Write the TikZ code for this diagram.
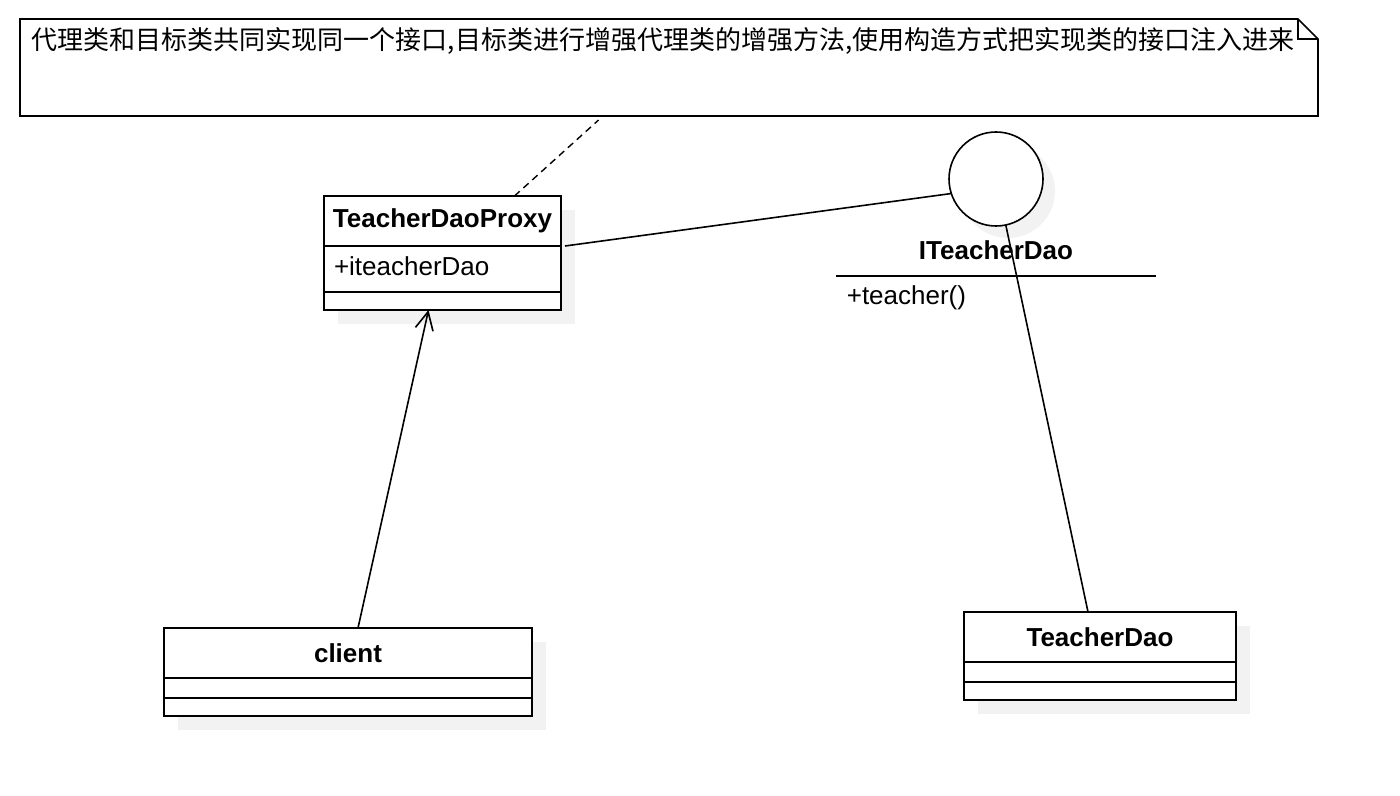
\documentclass[tikz,border=0pt]{standalone}
\usepackage{fontspec}
\setmainfont{Liberation Sans}
\newfontfamily\cjkfont{Noto Sans CJK SC}
\usepackage{tikz}
\usetikzlibrary{arrows.meta}
\usetikzlibrary{positioning}
\usetikzlibrary{backgrounds}

\begin{document}
\begin{tikzpicture}[x=0.5pt, y=-0.5pt, line width=0.8pt,
        font=\fontsize{13pt}{15pt}\selectfont,
        classhead/.style={draw, fill=white, inner sep=0pt, outer sep=0pt, minimum height=25pt, font=\fontsize{13pt}{15pt}\selectfont\bfseries},
        classpart/.style={draw, fill=white, inner xsep=5pt, inner ysep=0pt, outer sep=0pt, align=left},
        shade/.style={fill=black!5}]
        \useasboundingbox (0,0) rectangle (1400,796);

        % note
        \node[minimum width=649pt, minimum height=48.5pt, inner sep=0pt, outer sep=0pt] (note) at (669,67.5) {};
        \draw (note.north west) -- ([xshift=-10pt]note.north east) -- ([yshift=-10pt]note.north east) -- (note.south east) -- (note.south west) -- cycle;
        \draw ([xshift=-10pt]note.north east) -- ++(0,-10pt) -- ([yshift=-10pt]note.north east);
        \node[anchor=west, inner sep=0pt, font=\cjkfont\fontsize{13pt}{15pt}\selectfont] (notetext) at (31,41) {代理类和目标类共同实现同一个接口,目标类进行增强代理类的增强方法,使用构造方式把实现类的接口注入进来};

        % TeacherDaoProxy
        \node[classhead, minimum width=118.5pt] (phead) at (442.5,221) {TeacherDaoProxy};
        \node[classpart, text width=108.5pt, text depth=3pt, minimum height=23pt, below=0pt of phead] (pattr) {+iteacherDao};
        \node[classpart, text width=108.5pt, minimum height=9pt, below=0pt of pattr] (pmeth) {};

        % client
        \node[classhead, minimum width=184pt] (chead) at (348,653) {client};
        \node[classpart, text width=174pt, minimum height=10pt, below=0pt of chead] (cattr) {};
        \node[classpart, text width=174pt, minimum height=9pt, below=0pt of cattr] (cmeth) {};

        % TeacherDao
        \node[classhead, minimum width=136pt] (thead) at (1100,637) {TeacherDao};
        \node[classpart, text width=126pt, minimum height=10pt, below=0pt of thead] (tattr) {};
        \node[classpart, text width=126pt, minimum height=9pt, below=0pt of tattr] (tmeth) {};

        % ITeacherDao
        \node[draw, circle, fill=white, minimum size=47pt, inner sep=0pt, outer sep=0pt] (iface) at (996,179) {};
        \node[font=\fontsize{13pt}{15pt}\selectfont\bfseries] (ilabel) at (996,250) {ITeacherDao};
        \draw (836,276) -- (1156,276);
        \node[anchor=west, inner xsep=0pt] (imeth) at (846,298) {+teacher()};

        \begin{scope}[on background layer]
            \fill[shade] ([shift={(7pt,-7pt)}]phead.north west) rectangle ([shift={(7pt,-7pt)}]pmeth.south east);
            \fill[shade] ([shift={(7pt,-7pt)}]chead.north west) rectangle ([shift={(7pt,-7pt)}]cmeth.south east);
            \fill[shade] ([shift={(7pt,-7pt)}]thead.north west) rectangle ([shift={(7pt,-7pt)}]tmeth.south east);
            \fill[shade] ([shift={(6pt,-6pt)}]iface.center) circle[radius=23.5pt];
        \end{scope}

        \draw ([xshift=2pt]phead.south east) -- (iface.198);
        \draw (iface) -- ([xshift=-6pt]thead.north);
        \draw[dash pattern=on 3.5pt off 2.5pt, line width=0.7pt, shorten >=3pt] ([xshift=36pt]phead.north) -- ([xshift=-33pt]note.south);
        \draw[-{Straight Barb[length=9pt,width=9pt]}] ([xshift=5pt]chead.north) -- ([xshift=-7pt]pmeth.south);
\end{tikzpicture}
\end{document}
